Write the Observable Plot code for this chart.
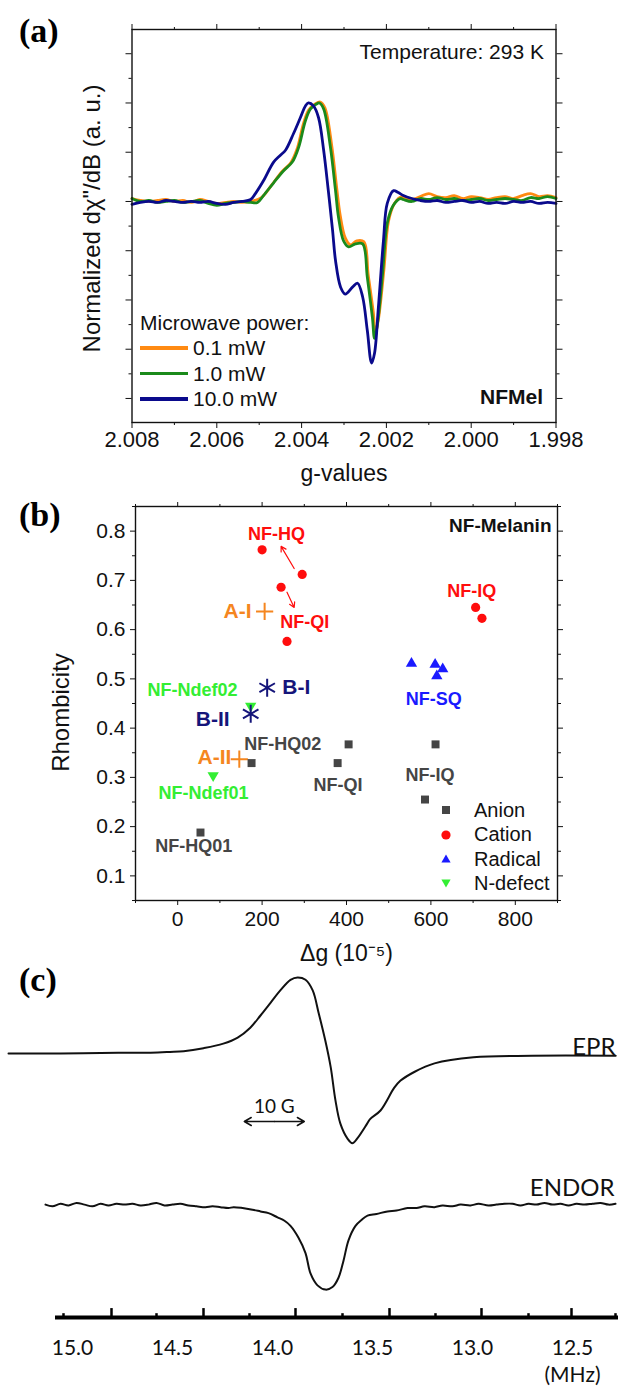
<!DOCTYPE html>
<html>
<head>
<meta charset="utf-8">
<script src="https://cdn.jsdelivr.net/npm/d3@7"></script>
<script src="https://cdn.jsdelivr.net/npm/@observablehq/plot@0.6"></script>
<style>
html,body{margin:0;padding:0;background:#fff;}
#root{position:relative;width:618px;height:1386px;overflow:hidden;background:#fff;}
#root > svg{position:absolute;left:0;}
.tag{position:absolute;left:19px;font-family:"Liberation Serif","Times New Roman",serif;font-weight:bold;font-size:34px;line-height:34px;color:#000;}
.leg{position:absolute;font-family:"Liberation Sans",Arial,sans-serif;color:#111;}
.leg .row{display:flex;align-items:center;white-space:nowrap;}
</style>
</head>
<body>
<div id="root"></div>
<script>
// ---------------- Panel (a): EPR spectra vs microwave power ----------------
const gMajor = [2.008, 2.006, 2.004, 2.002, 2.000, 1.998];
const gMinor = [2.007, 2.005, 2.003, 2.001, 1.999];
const yMajorA = [-2, -1.5, -1, -0.5, 0, 0.5, 1, 1.5];
const yMinorA = [-1.75, -1.25, -0.75, -0.25, 0.25, 0.75, 1.25];
const powerLabels = ["0.1 mW", "1.0 mW", "10.0 mW"];

// [g-value, normalized dχ''/dB]
const spec01 = [
  [2.0080,0.03],[2.0078,0.01],[2.0076,0.00],[2.0074,0.01],[2.0072,0.02],[2.0070,0.00],[2.0068,0.01],[2.0066,-0.01],
  [2.0064,0.02],[2.0062,0.00],[2.0060,-0.02],[2.0058,-0.01],[2.0056,0.00],[2.0054,-0.01],[2.0052,0.00],
  [2.00495,0.04],[2.00470,0.17],[2.00447,0.30],[2.00426,0.39],[2.00411,0.53],[2.00395,0.80],[2.00383,0.93],[2.00368,0.99],
  [2.00356,1.01],[2.00345,0.95],[2.00329,0.57],[2.00317,0.13],[2.00309,-0.14],[2.00297,-0.37],[2.00285,-0.44],[2.00270,-0.40],
  [2.00253,-0.41],[2.00243,-0.74],[2.00231,-1.12],[2.00226,-1.33],[2.00219,-1.20],[2.00206,-0.70],[2.00195,-0.20],[2.00181,-0.02],
  [2.00164,0.05],[2.0016,0.04],[2.0014,0.02],[2.0012,0.05],[2.0010,0.08],[2.0008,0.05],[2.0006,0.04],[2.0004,0.06],[2.0002,0.03],
  [2.0000,0.05],[1.9998,0.04],[1.9996,0.02],[1.9994,0.04],[1.9992,0.05],[1.9990,0.03],[1.9988,0.06],[1.9986,0.08],[1.9984,0.05],
  [1.9982,0.06],[1.9980,0.04]
];
const spec1 = [
  [2.0080,0.03],[2.0078,0.00],[2.0076,0.01],[2.0074,-0.01],[2.0072,0.00],[2.0070,0.01],[2.0068,-0.01],[2.0066,0.00],
  [2.0064,0.01],[2.0062,-0.02],[2.0060,-0.04],[2.0058,-0.02],[2.0056,-0.01],[2.0054,0.00],[2.0052,-0.01],[2.00504,-0.01],
  [2.00490,0.06],[2.00466,0.19],[2.00443,0.31],[2.00422,0.40],[2.00407,0.55],[2.00391,0.82],[2.00379,0.94],[2.00365,0.99],
  [2.00358,1.00],[2.00348,0.94],[2.00332,0.55],[2.00320,0.11],[2.00313,-0.16],[2.00301,-0.40],[2.00289,-0.46],[2.00273,-0.43],
  [2.00256,-0.43],[2.00245,-0.77],[2.00233,-1.18],[2.00228,-1.39],[2.00221,-1.24],[2.00209,-0.73],[2.00198,-0.22],[2.00184,-0.04],
  [2.00167,0.03],[2.0016,0.02],[2.0014,0.00],[2.0012,0.03],[2.0010,0.02],[2.0008,0.04],[2.0006,0.02],[2.0004,0.03],[2.0002,0.01],
  [2.0000,0.02],[1.9998,0.03],[1.9996,0.01],[1.9994,0.02],[1.9992,0.03],[1.9990,0.02],[1.9988,0.01],[1.9986,0.04],[1.9984,0.03],
  [1.9982,0.05],[1.9980,0.03]
];
const spec10 = [
  [2.0080,-0.03],[2.0078,-0.01],[2.0076,0.00],[2.0074,-0.01],[2.0072,0.01],[2.0070,0.00],[2.0068,-0.01],[2.0066,0.00],
  [2.0064,-0.01],[2.0062,0.00],[2.0060,-0.02],[2.0058,-0.03],[2.0056,-0.01],[2.0054,0.00],[2.0052,0.02],
  [2.00509,0.08],[2.00490,0.21],[2.00466,0.40],[2.00450,0.47],[2.00438,0.52],[2.00419,0.69],[2.00403,0.85],[2.00391,0.97],
  [2.00384,1.00],[2.00372,0.97],[2.00360,0.85],[2.00348,0.52],[2.00337,0.11],[2.00327,-0.29],[2.00320,-0.60],[2.00308,-0.87],
  [2.00297,-0.94],[2.00280,-0.87],[2.00268,-0.83],[2.00256,-0.97],[2.00245,-1.31],[2.00235,-1.64],[2.00228,-1.54],[2.00219,-1.08],
  [2.00207,-0.40],[2.00198,-0.02],[2.00183,0.11],[2.00172,0.09],
  [2.0016,0.06],[2.0014,0.03],[2.0012,0.01],[2.0010,0.00],[2.0008,0.01],[2.0006,-0.01],[2.0004,0.00],[2.0002,0.01],[2.0000,-0.01],
  [1.9998,0.00],[1.9996,-0.02],[1.9994,-0.01],[1.9992,-0.02],[1.9990,0.00],[1.9988,-0.01],[1.9986,0.00],[1.9984,-0.02],
  [1.9982,-0.01],[1.9980,-0.02]
];

// ---------------- Panel (b): rhombicity vs Δg ----------------
const dgMajor = [0, 200, 400, 600, 800];
const dgMinor = [-100, 100, 300, 500, 700, 900];
const rhMajor = [0.1, 0.2, 0.3, 0.4, 0.5, 0.6, 0.7, 0.8];
const rhMinor = [0.05, 0.15, 0.25, 0.35, 0.45, 0.55, 0.65, 0.75, 0.85];
const anion   = [[175,0.329],[405,0.367],[379,0.329],[611,0.367],[586,0.255],[54,0.188]];
const cation  = [[200,0.762],[295,0.712],[245,0.686],[259,0.576],[706,0.645],[721,0.623]];
const radical = [[554,0.531],[610,0.529],[628,0.520],[614,0.506]];
const ndefect = [[84,0.304],[173,0.445]];
const refA = [[206,0.637],[146,0.337]];   // A-I, A-II (crosses)
const refB = [[212,0.482],[173,0.429]];   // B-I, B-II (asterisks)
const labelsB = [
  {label:"NF-HQ", dg:234, rh:0.794, kind:"Cation"},
  {label:"NF-QI", dg:301, rh:0.614, kind:"Cation"},
  {label:"NF-IQ", dg:697, rh:0.678, kind:"Cation"},
  {label:"NF-SQ", dg:607, rh:0.459, kind:"Radical"},
  {label:"NF-HQ02", dg:249, rh:0.367, kind:"Anion"},
  {label:"NF-QI", dg:380, rh:0.284, kind:"Anion"},
  {label:"NF-IQ", dg:598, rh:0.304, kind:"Anion"},
  {label:"NF-HQ01", dg:38, rh:0.161, kind:"Anion"},
  {label:"NF-Ndef02", dg:35, rh:0.476, kind:"N-defect"},
  {label:"NF-Ndef01", dg:61, rh:0.267, kind:"N-defect"}
];
const refLabels = [
  {label:"A-I", dg:142, rh:0.637, kind:"A"},
  {label:"A-II", dg:87, rh:0.341, kind:"A"},
  {label:"B-I", dg:281, rh:0.482, kind:"B"},
  {label:"B-II", dg:83, rh:0.418, kind:"B"}
];
const arrowsB = [
  {x1:276, y1:0.724, x2:245, y2:0.769},
  {x1:259, y1:0.676, x2:276, y2:0.645}
];
const legendB = ["Anion", "Cation", "Radical", "N-defect"];

// ---------------- Panel (c): EPR and ENDOR ----------------
// EPR: [field (G, relative), intensity]
const epr = [
  [0,0.00],[8.7,0.00],[18.3,0.01],[23.7,0.01],[26.9,0.02],[29.2,0.03],[32.5,0.07],[35.8,0.13],[38.2,0.21],[40.3,0.34],
  [42.0,0.50],[43.7,0.67],[45.3,0.83],[47.0,0.97],[48.2,1.00],[49.5,0.97],[50.7,0.83],[51.7,0.53],[52.8,0.17],[53.7,-0.18],
  [54.5,-0.62],[55.3,-0.92],[56.5,-1.12],[57.3,-1.18],[58.2,-1.11],[59.8,-0.92],[60.3,-0.86],[62.0,-0.75],[64.3,-0.45],
  [65.3,-0.36],[67.7,-0.24],[71.0,-0.13],[77.5,-0.05],[87.3,-0.03],[101.2,-0.03]
];
const scaleBar = [{from:39.3, to:49.3, level:-0.895, text:"10 G"}];
// ENDOR: [frequency (MHz), intensity]
const endor = [
  [15.135,0.01],[15.10,-0.01],[15.06,0.02],[15.02,0.00],[14.98,0.03],[14.94,0.01],[14.90,-0.01],[14.86,0.02],[14.82,0.00],
  [14.78,0.02],[14.74,0.01],[14.70,0.02],[14.66,0.00],[14.62,0.01],[14.58,0.03],[14.54,0.00],[14.50,0.01],[14.46,0.02],
  [14.42,0.00],[14.38,-0.01],[14.335,-0.02],[14.30,-0.01],[14.26,-0.02],[14.22,-0.03],[14.195,-0.02],[14.15,-0.03],
  [14.10,-0.05],[14.06,-0.07],[14.02,-0.09],[13.975,-0.14],[13.94,-0.18],[13.91,-0.24],[13.87,-0.38],[13.835,-0.56],
  [13.81,-0.80],[13.775,-0.94],[13.735,-0.99],[13.70,-0.96],[13.67,-0.85],[13.645,-0.65],[13.62,-0.41],[13.585,-0.24],
  [13.555,-0.17],[13.525,-0.12],[13.48,-0.10],[13.425,-0.07],[13.38,-0.06],[13.325,-0.03],[13.28,-0.03],[13.24,-0.01],
  [13.19,-0.02],[13.15,0.00],[13.10,-0.01],[13.06,0.01],[13.01,0.00],[12.97,0.02],[12.92,0.00],[12.88,0.01],[12.84,0.02],
  [12.80,0.02],[12.76,0.00],[12.72,0.02],[12.68,0.01],[12.64,0.03],[12.60,0.01],[12.56,0.02],[12.52,0.00],[12.48,0.02],
  [12.44,0.01],[12.40,0.02],[12.36,0.03],[12.32,0.01],[12.285,0.02]
];
const mhzLabels = [15.0, 14.5, 14.0, 13.5, 13.0, 12.5];
const mhzTall = [14.805, 14.345, 13.885, 13.415, 12.955, 12.505];
const mhzSmall = [15.045, 14.58, 14.115, 13.65, 13.185, 12.72, 12.285];
const mhzAxisSpan = [15.085, 12.27];

// ====================== rendering ======================
const root = document.getElementById("root");
const sans = "'Liberation Sans', Arial, Helvetica, sans-serif";
const geo = "Lato, 'Noto Sans', 'DejaVu Sans', sans-serif";
const powerColors = ["#ff8a12", "#1b8a1b", "#0a0a8c"];
const kindColor = {"Cation":"#ff0d0d","Radical":"#1a1aff","Anion":"#454545","N-defect":"#33ee33","A":"#f5861f","B":"#15157a"};
const blank = () => "";
function place(svg, top) { svg.style.top = top + "px"; root.appendChild(svg); }

// ---- (a)
const plotA = Plot.plot({
  width: 618, height: 480,
  marginLeft: 131.5, marginRight: 62.5, marginTop: 29, marginBottom: 58,
  x: {domain: [2.008, 1.998], label: null},
  y: {domain: [-2.244, 1.746], label: null},
  style: {fontFamily: sans, color: "#111", background: "transparent", overflow: "visible"},
  marks: [
    Plot.axisX({anchor:"bottom", ticks:gMajor, tickSize:6, tickPadding:3, tickFormat:d3.format(".3f"), fontSize:22, label:null}),
    Plot.axisX({anchor:"bottom", ticks:gMinor, tickSize:3, tickFormat:blank, label:null}),
    Plot.axisX({anchor:"top", ticks:gMajor, tickSize:6, tickFormat:blank, label:null}),
    Plot.axisX({anchor:"top", ticks:gMinor, tickSize:3, tickFormat:blank, label:null}),
    Plot.axisY({anchor:"left", ticks:yMajorA, tickSize:6, tickFormat:blank, label:null}),
    Plot.axisY({anchor:"left", ticks:yMinorA, tickSize:3, tickFormat:blank, label:null}),
    Plot.axisY({anchor:"right", ticks:yMajorA, tickSize:6, tickFormat:blank, label:null}),
    Plot.axisY({anchor:"right", ticks:yMinorA, tickSize:3, tickFormat:blank, label:null}),
    Plot.line(spec01, {x:d=>d[0], y:d=>d[1], stroke:powerColors[0], strokeWidth:2.8, curve:"catmull-rom"}),
    Plot.line(spec1, {x:d=>d[0], y:d=>d[1], stroke:powerColors[1], strokeWidth:2.8, curve:"catmull-rom"}),
    Plot.line(spec10, {x:d=>d[0], y:d=>d[1], stroke:powerColors[2], strokeWidth:2.8, curve:"catmull-rom"}),
    Plot.frame({stroke:"#111", strokeWidth:1.4}),
    Plot.text(["Temperature: 293 K"], {text:d=>d, frameAnchor:"top-right", dx:-12, dy:23, textAnchor:"end", lineAnchor:"middle", fontSize:21, fill:"#111"}),
    Plot.text(["NFMel"], {text:d=>d, frameAnchor:"bottom-right", dx:-13, dy:-25, textAnchor:"end", lineAnchor:"middle", fontSize:21, fontWeight:"bold", fill:"#111"}),
    Plot.text(["Normalized d\u03c7\"/dB (a. u.)"], {text:d=>d, frameAnchor:"left", rotate:-90, dx:-39.5, dy:-7.5, textAnchor:"middle", lineAnchor:"middle", fontSize:24, fill:"#111"}),
    Plot.text(["g-values"], {text:d=>d, frameAnchor:"bottom", dy:51, textAnchor:"middle", lineAnchor:"middle", fontSize:23, fill:"#111"})
  ]
});
place(plotA, 0);

// legend (a)
const legA = document.createElement("div");
legA.className = "leg";
legA.style.cssText += "left:140px;top:309.5px;font-size:21px;line-height:25.5px;";
legA.innerHTML = `<div class="row">Microwave power:</div>` + powerLabels.map((n, i) =>
  `<div class="row"><span style="display:inline-block;width:48px;height:3.5px;background:${powerColors[i]};margin-right:5px"></span>${n}</div>`).join("");
root.appendChild(legA);

// ---- (b)
const plotB = Plot.plot({
  width: 618, height: 485,
  marginLeft: 135, marginRight: 61, marginTop: 26, marginBottom: 65,
  x: {domain: [-100, 900], label: null},
  y: {domain: [0.05, 0.85], label: null},
  style: {fontFamily: sans, color: "#111", background: "transparent", overflow: "visible"},
  marks: [
    Plot.axisX({anchor:"bottom", ticks:dgMajor, tickSize:5, tickPadding:6, tickFormat:d3.format("d"), fontSize:21, label:null}),
    Plot.axisX({anchor:"bottom", ticks:dgMinor, tickSize:3, tickFormat:blank, label:null}),
    Plot.axisX({anchor:"top", ticks:dgMajor, tickSize:5, tickFormat:blank, label:null}),
    Plot.axisX({anchor:"top", ticks:dgMinor, tickSize:3, tickFormat:blank, label:null}),
    Plot.axisY({anchor:"left", ticks:rhMajor, tickSize:5, tickPadding:5, tickFormat:d3.format(".1f"), fontSize:21, label:null}),
    Plot.axisY({anchor:"left", ticks:rhMinor, tickSize:3, tickFormat:blank, label:null}),
    Plot.axisY({anchor:"right", ticks:rhMajor, tickSize:5, tickFormat:blank, label:null}),
    Plot.axisY({anchor:"right", ticks:rhMinor, tickSize:3, tickFormat:blank, label:null}),
    Plot.frame({stroke:"#111", strokeWidth:1.4}),
    Plot.arrow(arrowsB, {x1:"x1", y1:"y1", x2:"x2", y2:"y2", stroke:kindColor.Cation, strokeWidth:1.2, headLength:7, bend:0}),
    Plot.dot(ndefect, {x:d=>d[0], y:d=>d[1], symbol:"triangle", rotate:180, r:4.2, fill:kindColor["N-defect"]}),
    Plot.dot(refB, {x:d=>d[0], y:d=>d[1], symbol:"asterisk", r:8.5, stroke:kindColor.B, strokeWidth:2}),
    Plot.dot(refA, {x:d=>d[0], y:d=>d[1], symbol:"plus", r:5.6, stroke:kindColor.A, strokeWidth:2}),
    Plot.dot(anion, {x:d=>d[0], y:d=>d[1], symbol:"square", r:4.5, fill:kindColor.Anion}),
    Plot.dot(cation, {x:d=>d[0], y:d=>d[1], symbol:"circle", r:4.6, fill:kindColor.Cation}),
    Plot.dot(radical, {x:d=>d[0], y:d=>d[1], symbol:"triangle", r:4.2, fill:kindColor.Radical}),
    Plot.text(labelsB, {x:"dg", y:"rh", text:"label", fill:d=>kindColor[d.kind], fontWeight:"bold", fontSize:18, lineAnchor:"middle"}),
    Plot.text(refLabels, {x:"dg", y:"rh", text:"label", fill:d=>kindColor[d.kind], fontWeight:"bold", fontSize:21, lineAnchor:"middle"}),
    Plot.text(["NF-Melanin"], {text:d=>d, frameAnchor:"top-right", dx:-6, dy:19, textAnchor:"end", lineAnchor:"middle", fontSize:19, fontWeight:"bold", fill:"#111"}),
    Plot.text(["Rhombicity"], {text:d=>d, frameAnchor:"left", rotate:-90, dx:-74, dy:9, textAnchor:"middle", lineAnchor:"middle", fontSize:24, fill:"#111"}),
    Plot.text(["\u0394g (10\u207b\u2075)"], {text:d=>d, frameAnchor:"bottom", dy:53, textAnchor:"middle", lineAnchor:"middle", fontSize:23, fill:"#111"})
  ]
});
place(plotB, 480);

// legend (b)
const shapes = {
  "Anion": `<rect x="2" y="2" width="8" height="8" fill="${kindColor.Anion}"/>`,
  "Cation": `<circle cx="6" cy="6" r="4.6" fill="${kindColor.Cation}"/>`,
  "Radical": `<path d="M6,1.5 L10.6,9.5 L1.4,9.5Z" fill="${kindColor.Radical}"/>`,
  "N-defect": `<path d="M6,10.5 L10.6,2.5 L1.4,2.5Z" fill="${kindColor["N-defect"]}"/>`
};
const legB = document.createElement("div");
legB.className = "leg";
legB.style.cssText += "left:440px;top:798px;font-size:20px;line-height:24.4px;";
legB.innerHTML = legendB.map(k =>
  `<div class="row"><svg width="12" height="12" style="margin-right:22px">${shapes[k]}</svg>${k}</div>`).join("");
root.appendChild(legB);

// ---- (c) EPR
const plotC1 = Plot.plot({
  width: 618, height: 195, margin: 0,
  x: {domain: [-1.333, 101.667], axis: null},
  y: {domain: [-1.408, 1.158], axis: null},
  style: {fontFamily: geo, color: "#111", background: "transparent", overflow: "visible"},
  marks: [
    Plot.line(epr, {x:d=>d[0], y:d=>d[1], stroke:"#111", strokeWidth:2, curve:"catmull-rom"}),
    Plot.arrow(scaleBar, {x1:d=>(d.from+d.to)/2, x2:"from", y1:"level", y2:"level", stroke:"#111", strokeWidth:1.5, headLength:8, bend:0}),
    Plot.arrow(scaleBar, {x1:d=>(d.from+d.to)/2, x2:"to", y1:"level", y2:"level", stroke:"#111", strokeWidth:1.5, headLength:8, bend:0}),
    Plot.text(scaleBar, {x:d=>(d.from+d.to)/2, y:"level", text:"text", dy:-15, fontSize:19, lineAnchor:"middle", fill:"#111"}),
    Plot.text(["EPR"], {text:d=>d, frameAnchor:"top-right", dx:-3, dy:82, textAnchor:"end", lineAnchor:"middle", fontSize:24, fill:"#111"})
  ]
});
place(plotC1, 965);

// ---- (c) ENDOR
const yDomE = [-1.318, 0.529];
const plotC2 = Plot.plot({
  width: 618, height: 226,
  marginLeft: 0, marginRight: 0, marginTop: 0, marginBottom: 69,
  x: {domain: [15.36, 12.27], label: null},
  y: {domain: yDomE, axis: null},
  style: {fontFamily: geo, color: "#111", background: "transparent", overflow: "visible"},
  marks: [
    Plot.line(endor, {x:d=>d[0], y:d=>d[1], stroke:"#111", strokeWidth:2, curve:"catmull-rom"}),
    Plot.ruleY([yDomE[0]], {x1:mhzAxisSpan[0], x2:mhzAxisSpan[1], stroke:"#000", strokeWidth:4}),
    Plot.ruleX(mhzTall, {x:d=>d, y1:yDomE[0], y2:yDomE[0] + 0.105, stroke:"#000", strokeWidth:2.5}),
    Plot.ruleX(mhzSmall, {x:d=>d, y1:yDomE[0], y2:yDomE[0] + 0.045, stroke:"#000", strokeWidth:2.5}),
    Plot.axisX({anchor:"bottom", ticks:mhzLabels, tickSize:0, tickPadding:23, tickFormat:d3.format(".1f"), fontSize:21, label:null}),
    Plot.text(["(MHz)"], {text:d=>d, x:12.5, frameAnchor:"bottom", dy:58, lineAnchor:"middle", fontSize:21, fill:"#111"}),
    Plot.text(["ENDOR"], {text:d=>d, frameAnchor:"top-right", dx:-4, dy:28, textAnchor:"end", lineAnchor:"middle", fontSize:24, fill:"#111"})
  ]
});
place(plotC2, 1160);

// panel tags
[["(a)", 14], ["(b)", 498], ["(c)", 963]].forEach(([t, top]) => {
  const d = document.createElement("div");
  d.className = "tag"; d.style.top = top + "px"; d.textContent = t;
  root.appendChild(d);
});
</script>
</body>
</html>
